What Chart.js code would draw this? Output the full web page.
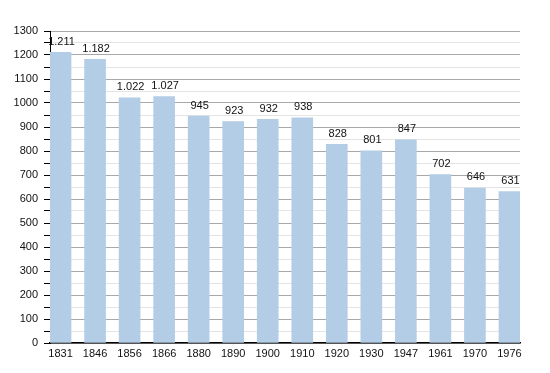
<!DOCTYPE html>
<html>
<head>
<meta charset="utf-8">
<script src="https://cdn.jsdelivr.net/npm/chart.js@4/dist/chart.umd.min.js"></script>
<style>
  html, body { margin: 0; padding: 0; background: #fff; }
  #wrap { width: 550px; height: 373px; }
</style>
</head>
<body>
<div id="wrap"><canvas id="popChart"></canvas></div>
<script>
// ─── DATA ──────────────────────────────────────────────────
const years  = ['1831', '1846', '1856', '1866', '1880', '1890', '1900', '1910', '1920', '1930', '1947', '1961', '1970', '1976'];
const values = [1211, 1182, 1022, 1027, 945, 923, 932, 938, 828, 801, 847, 702, 646, 631];
const yMax   = 1300;
const yStep  = 50;

const FONT = "'Liberation Sans', Arial, sans-serif";

function fmtNum(v) {
  return String(v).replace(/\B(?=(\d{3})+(?!\d))/g, '.');
}

// value labels above the bars
const barLabels = {
  id: 'barLabels',
  afterDatasetsDraw(chart) {
    const ctx  = chart.ctx;
    const meta = chart.getDatasetMeta(0);
    ctx.save();
    ctx.font = '11px ' + FONT;
    ctx.fillStyle = '#111';
    ctx.textAlign = 'center';
    ctx.textBaseline = 'bottom';
    meta.data.forEach((bar, i) => {
      ctx.fillText(fmtNum(values[i]), bar.x + 1, bar.y - 5);
    });
    ctx.restore();
  }
};

new Chart(document.getElementById('popChart'), {
  type: 'bar',
  data: {
    datasets: [{
      data: values.map((v, i) => ({ x: i, y: v })),
      backgroundColor: '#b3cde6',
      borderWidth: 0,
      barThickness: 21,
    }],
  },
  options: {
    responsive: true,
    maintainAspectRatio: false,
    animation: false,
    layout: { padding: { top: 31, right: 30, left: 0, bottom: 0 } },
    plugins: {
      legend: { display: false },
      tooltip: { enabled: false },
    },
    scales: {
      x: {
        type: 'linear',
        offset: false,
        min: -0.305,
        max: years.length - 1 + 0.305,
        afterBuildTicks: axis => { axis.ticks = years.map((y, i) => ({ value: i })); },
        afterFit: axis => { axis.height = 30; },
        grid: { display: false, drawTicks: false },
        border: { color: '#000', width: 1.5 },
        ticks: {
          autoSkip: false,
          maxRotation: 0,
          padding: 4,
          color: '#111',
          font: { family: FONT, size: 11 },
          callback: v => years[v] ?? '',
        },
      },
      y: {
        min: 0,
        max: yMax,
        afterFit: axis => { axis.width = 50; },
        border: { color: '#000', width: 1 },
        grid: {
          color: ctx => (ctx.tick && ctx.tick.value % 100 === 0) ? '#a8a8a8' : '#e4e4e4',
          tickColor: '#000',
          tickLength: 6,
          lineWidth: 1,
        },
        ticks: {
          stepSize: yStep,
          autoSkip: false,
          padding: 6,
          color: '#111',
          font: { family: FONT, size: 11 },
          callback: v => (v % 100 === 0 ? v : ''),
        },
      },
    },
  },
  plugins: [barLabels],
});
</script>
</body>
</html>
